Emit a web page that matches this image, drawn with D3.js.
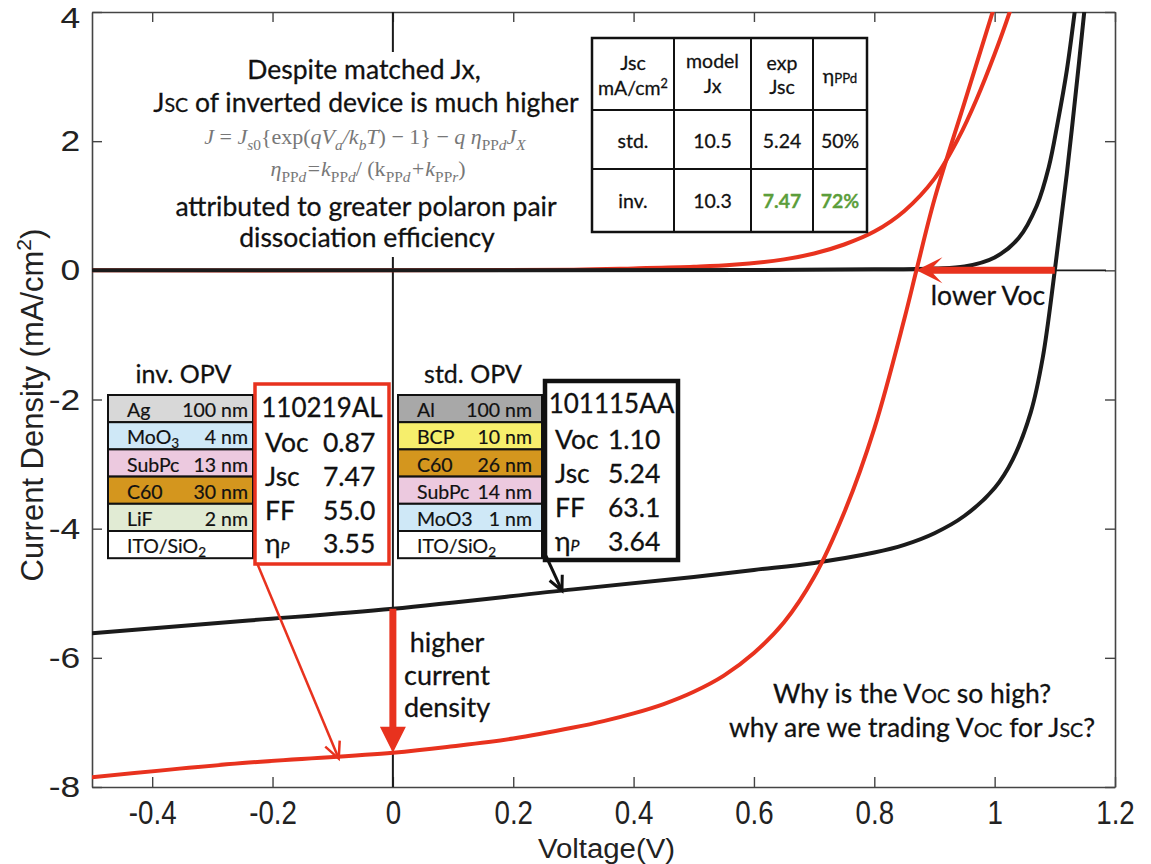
<!DOCTYPE html>
<html>
<head>
<meta charset="utf-8">
<script src="https://cdn.jsdelivr.net/npm/d3@7"></script>
<style>
  html, body { margin: 0; padding: 0; background: #fff; }
  svg { display: block; }
</style>
</head>
<body>
<svg id="chart" width="1151" height="864"></svg>
<script>
// ---- J–V data (V in volts, J in mA/cm²) ----
// standard device, illuminated
const stdLight = [[-0.5,-5.62],[-0.25,-5.43],[0,-5.24],[0.3,-4.94],[0.5,-4.75],[0.6,-4.64],
  [0.7,-4.53],[0.8,-4.37],[0.85,-4.25],[0.9,-4.07],[0.95,-3.8],[1.0,-3.37],[1.03,-2.93],
  [1.06,-2.2],[1.08,-1.35],[1.10,0],[1.12,1.5],[1.14,3.2],[1.15,4.1],[1.155,4.6]];
// standard device, dark
const stdDark = [[-0.5,0],[0.2,0],[0.6,0.005],[0.8,0.015],[0.9,0.03],[0.95,0.06],[1.0,0.2],
  [1.04,0.5],[1.07,1.0],[1.09,1.6],[1.105,2.3],[1.12,3.1],[1.133,4.0],[1.138,4.4]];
// inverted device, illuminated
const invLight = [[-0.5,-7.85],[-0.25,-7.63],[0,-7.47],[0.1,-7.37],[0.2,-7.25],[0.3,-7.08],
  [0.35,-6.98],[0.4,-6.86],[0.45,-6.715],[0.5,-6.525],[0.55,-6.275],[0.6,-5.925],[0.65,-5.45],
  [0.7,-4.75],[0.75,-3.75],[0.8,-2.45],[0.85,-0.75],[0.87,0],[0.9,1.1],[0.95,2.6],[1.0,4.1],[1.01,4.4]];
// inverted device, dark
const invDark = [[-0.5,0],[0,0.0],[0.3,0.01],[0.4,0.03],[0.5,0.055],[0.565,0.085],[0.65,0.17],
  [0.7,0.26],[0.75,0.4],[0.8,0.6],[0.85,0.92],[0.9,1.42],[0.94,2.05],[0.97,2.65],[1.0,3.35],
  [1.025,4.0],[1.035,4.3]];

// ---- axes ----
const xTicks = [-0.4,-0.2,0,0.2,0.4,0.6,0.8,1,1.2];
const xTickLabels = ["-0.4","-0.2","0","0.2","0.4","0.6","0.8","1","1.2"];
const yTicks = [-8,-6,-4,-2,0,2,4];
const yTickLabels = ["-8","-6","-4","-2","0","2","4"];

// ---- device stacks ----
const invLayers = ["Ag","MoO_3","SubPc","C60","LiF","ITO/SiO_2"];
const invThick  = ["100 nm","4 nm","13 nm","30 nm","2 nm",""];
const stdLayers = ["Al","BCP","C60","SubPc","MoO3","ITO/SiO_2"];
const stdThick  = ["100 nm","10 nm","26 nm","14 nm","1 nm",""];
const invLayerFill = ["#d8d8d8","#cfe8f7","#ecc9df","#d4961e","#e1ebd4","#ffffff"];
const stdLayerFill = ["#a8a8a8","#f6ee6c","#d4961e","#ecc9df","#cfe8f7","#ffffff"];

// ---- device figures of merit ----
const paramNames = ["Voc","Jsc","FF","ηP"];
const invId = "110219AL";
const invParams = ["0.87","7.47","55.0","3.55"];
const stdId = "101115AA";
const stdParams = ["1.10","5.24","63.1","3.64"];

// ---- model table ----
const tableRows = ["std.","inv."];
const tableJx   = ["10.5","10.3"];
const tableJsc  = ["5.24","7.47"];
const tableEta  = ["50%","72%"];

const invVoc = +invParams[0], invJsc = -invParams[1];
const stdVoc = +stdParams[0], stdJsc = -stdParams[1];

const W = 1151, H = 864;
const plot = { left: 92, right: 1115, top: 12, bottom: 787 };
const svg = d3.select("#chart");

const x = d3.scaleLinear().domain([-0.5, 1.2]).range([plot.left, plot.right]);
const y = d3.scaleLinear().domain([-8, 4]).range([plot.bottom, plot.top]);

const RED = "#e8321e", BLACK = "#1b1b1b";
const SANS = "'Liberation Sans', Arial, Helvetica, sans-serif";
const HUM = "Lato, 'Open Sans', 'Noto Sans', sans-serif";
const SERIF = "'Liberation Serif', 'DejaVu Serif', serif";

svg.append("rect").attr("width", W).attr("height", H).attr("fill", "#fff");

svg.append("defs").append("clipPath").attr("id", "plotClip")
  .append("rect").attr("x", plot.left).attr("y", plot.top)
  .attr("width", plot.right - plot.left).attr("height", plot.bottom - plot.top);

// ---- axes with inward ticks on all four sides ----
const gAxes = svg.append("g");
const axB = gAxes.append("g").attr("transform", `translate(0,${plot.bottom})`)
  .call(d3.axisBottom(x).tickValues(xTicks).tickSizeInner(-10).tickSizeOuter(0).tickPadding(14)
    .tickFormat((d, i) => xTickLabels[i]));
axB.selectAll("text").style("font-family", SANS).style("font-size", "33px")
  .attr("fill", "#222").attr("transform", "scale(0.84,1)");
const axL = gAxes.append("g").attr("transform", `translate(${plot.left},0)`)
  .call(d3.axisLeft(y).tickValues(yTicks).tickSizeInner(-10).tickSizeOuter(0).tickPadding(10)
    .tickFormat((d, i) => yTickLabels[i]));
axL.selectAll("text").style("font-family", SANS).style("font-size", "30px").attr("fill", "#222")
  .attr("transform", "scale(1.18,1)");
// keep the topmost label inside the canvas
axL.selectAll(".tick").filter(d => d === 4).select("text").attr("dy", "0.5em");
gAxes.append("g").attr("transform", `translate(0,${plot.top})`)
  .call(d3.axisTop(x).tickValues(xTicks).tickSizeInner(-10).tickSizeOuter(0).tickFormat(""));
gAxes.append("g").attr("transform", `translate(${plot.right},0)`)
  .call(d3.axisRight(y).tickValues(yTicks).tickSizeInner(-10).tickSizeOuter(0).tickFormat(""));
gAxes.selectAll(".domain").attr("stroke", "#444").attr("stroke-width", 1.6);
gAxes.selectAll(".tick line").attr("stroke", "#444").attr("stroke-width", 1.4);

// axis titles
const xtc = (plot.left + plot.right) / 2 + 3;
svg.append("text").attr("x", 0).attr("y", 0)
  .attr("text-anchor", "middle").style("font-family", SANS).style("font-size", "28px")
  .attr("fill", "#222").attr("transform", `translate(${xtc},857.5) scale(1.05,1)`)
  .text("Voltage(V)");
const yTitle = svg.append("text").attr("transform", "translate(43,405) rotate(-90)")
  .attr("text-anchor", "middle").style("font-family", SANS).style("font-size", "31px").attr("fill", "#222");
yTitle.append("tspan").text("Current Density (mA/cm");
yTitle.append("tspan").attr("dy", -12).style("font-size", "21px").text("2");
yTitle.append("tspan").attr("dy", 12).text(")");

// ---- reference lines J = 0 and V = 0 ----
svg.append("line").attr("x1", x(-0.5)).attr("x2", x(1.185)).attr("y1", y(0)).attr("y2", y(0))
  .attr("stroke", BLACK).attr("stroke-width", 1.6);
svg.append("line").attr("x1", x(0)).attr("x2", x(0)).attr("y1", y(4)).attr("y2", y(-8))
  .attr("stroke", BLACK).attr("stroke-width", 2);

// ---- curves ----
const line = d3.line().x(d => x(d[0])).y(d => y(d[1])).curve(d3.curveCatmullRom.alpha(0.5));
const gCurves = svg.append("g").attr("clip-path", "url(#plotClip)");
[[invDark, RED], [stdDark, BLACK], [stdLight, BLACK], [invLight, RED]].forEach(([data, c]) => {
  gCurves.append("path").datum(data).attr("d", line).attr("fill", "none")
    .attr("stroke", c).attr("stroke-width", 4).attr("stroke-linejoin", "round").attr("stroke-linecap", "round");
});

// ---- helpers ----
function rich(parent, px, py, parts, opt) {
  const fill = opt.fill || "#111";
  const fam = opt.family || HUM;
  const t = parent.append("text").attr("x", px).attr("y", py)
    .attr("text-anchor", opt.anchor || "middle")
    .style("font-family", fam).style("font-size", opt.size + "px")
    .attr("fill", fill);
  if (fam === HUM) t.attr("stroke", fill).attr("stroke-width", opt.sw != null ? opt.sw : 0.28);
  if (opt.style) t.style("font-style", opt.style);
  if (opt.weight) t.style("font-weight", opt.weight);
  let shift = 0;
  parts.forEach(p => {
    if (typeof p === "string") p = { t: p };
    const s = t.append("tspan").text(p.t);
    const target = p.sub ? opt.size * (p.subShift || 0.28) : (p.sup ? -opt.size * 0.38 : 0);
    if (target !== shift) { s.attr("dy", target - shift); shift = target; }
    if (p.scale) s.style("font-size", (opt.size * p.scale) + "px");
    if (p.italic) s.style("font-style", "italic");
    if (p.roman) s.style("font-style", "normal");
    if (p.fill) s.attr("fill", p.fill);
    if (p.weight) s.style("font-weight", p.weight);
  });
  return t;
}
// "MoO_3" -> MoO with subscript 3
function splitSub(label) {
  const i = label.indexOf("_");
  if (i < 0) return [label];
  return [label.slice(0, i), { t: label.slice(i + 1), sub: true, scale: 0.7, subShift: 0.2 }];
}
function blockArrow(g, x1, y1, x2, y2, shaft, headLen, headHalf, color, barb) {
  const dx = x2 - x1, dy = y2 - y1, L = Math.hypot(dx, dy);
  const ux = dx / L, uy = dy / L, px = -uy, py = ux;
  const b = L - headLen, n = barb ? headLen * 0.35 : 0;
  const pt = (d, o) => [x1 + ux * d + px * o, y1 + uy * d + py * o];
  const pts = [pt(0, -shaft / 2), pt(b + n, -shaft / 2), pt(b, -headHalf), pt(L, 0),
               pt(b, headHalf), pt(b + n, shaft / 2), pt(0, shaft / 2)];
  g.append("path").attr("d", d3.line()(pts) + "Z").attr("fill", color);
}
function thinArrow(g, x1, y1, x2, y2, color, width, head) {
  const a = Math.atan2(y2 - y1, x2 - x1), s = 0.45;
  g.append("line").attr("x1", x1).attr("y1", y1).attr("x2", x2).attr("y2", y2)
    .attr("stroke", color).attr("stroke-width", width);
  const p = d3.path();
  p.moveTo(x2 - head * Math.cos(a - s), y2 - head * Math.sin(a - s));
  p.lineTo(x2, y2);
  p.lineTo(x2 - head * Math.cos(a + s), y2 - head * Math.sin(a + s));
  g.append("path").attr("d", p.toString()).attr("fill", "none").attr("stroke", color)
    .attr("stroke-width", width).attr("stroke-linejoin", "miter");
}

const gA = svg.append("g");

// ---- model statement (upper left) ----
gA.append("rect").attr("x", 140).attr("y", 52).attr("width", 445).attr("height", 205).attr("fill", "#fff");
const cx = 364;
rich(gA, cx, 79, ["Despite matched Jx,"], { size: 26.5 });
rich(gA, cx + 2, 112, ["J", { t: "SC", scale: 0.74 }, " of inverted device is much higher"], { size: 26.5 });
const eqOpt = { size: 22, family: SERIF, style: "italic", fill: "#777" };
rich(gA, cx + 1, 144, [
  { t: "J" }, { t: " = ", roman: true }, { t: "J" }, { t: "s", sub: true, scale: 0.7 }, { t: "0", sub: true, scale: 0.7, roman: true },
  { t: "{exp(", roman: true }, { t: "qV" }, { t: "a", sub: true, scale: 0.7 }, { t: "/k" }, { t: "b", sub: true, scale: 0.7 },
  { t: "T" }, { t: ") − 1} − ", roman: true }, { t: "q η" }, { t: "PP", sub: true, scale: 0.7, roman: true },
  { t: "d", sub: true, scale: 0.7 }, { t: "J" }, { t: "X", sub: true, scale: 0.7 }
], eqOpt);
rich(gA, cx + 4, 176, [
  { t: "η" }, { t: "PP", sub: true, scale: 0.7, roman: true }, { t: "d", sub: true, scale: 0.7 },
  { t: "=k" }, { t: "PP", sub: true, scale: 0.7, roman: true }, { t: "d", sub: true, scale: 0.7 },
  { t: "/ (k", roman: true }, { t: "PP", sub: true, scale: 0.7, roman: true }, { t: "d", sub: true, scale: 0.7 },
  { t: "+k" }, { t: "PP", sub: true, scale: 0.7, roman: true }, { t: "r", sub: true, scale: 0.7 }, { t: ")", roman: true }
], eqOpt);
rich(gA, cx + 2, 216, ["attributed to greater polaron pair"], { size: 26.5 });
rich(gA, cx + 3, 247, ["dissociation efficiency"], { size: 26.5 });

// ---- model table ----
const tCols = [592, 674, 751, 813, 867];
const tRowsY = [38, 110, 169, 232];
const gT = gA.append("g");
gT.append("rect").attr("x", tCols[0]).attr("y", tRowsY[0]).attr("width", tCols[4] - tCols[0])
  .attr("height", tRowsY[3] - tRowsY[0]).attr("fill", "#fff").attr("stroke", "#111").attr("stroke-width", 2.5);
tCols.slice(1, 4).forEach(c => gT.append("line").attr("x1", c).attr("x2", c).attr("y1", tRowsY[0]).attr("y2", tRowsY[3])
  .attr("stroke", "#111").attr("stroke-width", 2));
tRowsY.slice(1, 3).forEach(r => gT.append("line").attr("x1", tCols[0]).attr("x2", tCols[4]).attr("y1", r).attr("y2", r)
  .attr("stroke", "#111").attr("stroke-width", 2));
const colC = i => (tCols[i] + tCols[i + 1]) / 2;
const tOpt = { size: 19.5 };
rich(gT, colC(0), 70, ["Jsc"], tOpt);
rich(gT, colC(0), 95, ["mA/cm", { t: "2", sup: true, scale: 0.65 }], tOpt);
rich(gT, colC(1), 68, ["model"], tOpt);
rich(gT, colC(1), 93, ["Jx"], tOpt);
rich(gT, colC(2), 70, ["exp"], tOpt);
rich(gT, colC(2), 94, ["Jsc"], tOpt);
rich(gT, colC(3), 83, ["η", { t: "PPd", scale: 0.68 }], tOpt);
const greenFill = "#5c9e3b";
tableRows.forEach((r, i) => {
  const by = i === 0 ? 148 : 208;
  const hi = i === 1;
  rich(gT, colC(0), by, [r], tOpt);
  rich(gT, colC(1), by, [tableJx[i]], tOpt);
  rich(gT, colC(2), by, [tableJsc[i]], { size: 19.5, fill: hi ? greenFill : "#111", weight: hi ? 700 : 400 });
  rich(gT, colC(3), by, [tableEta[i]], { size: 19.5, fill: hi ? greenFill : "#111", weight: hi ? 700 : 400 });
});

// ---- device stacks ----
function drawStack(x0, top, w, rowH, layers, thick, fills, title, thickX) {
  const g = gA.append("g");
  rich(g, x0 + w / 2 + 3, top - 12, [title], { size: 25 });
  layers.forEach((name, i) => {
    const yy = top + i * rowH;
    g.append("rect").attr("x", x0).attr("y", yy).attr("width", w).attr("height", rowH)
      .attr("fill", fills[i]).attr("stroke", "#111").attr("stroke-width", 2);
    rich(g, x0 + 19, yy + rowH - 5, splitSub(name), { size: 19.5, anchor: "start", sw: 0.2 });
    if (thick[i]) rich(g, thickX, yy + rowH - 5, [thick[i]], { size: 19.5, anchor: "end", sw: 0.2 });
  });
}
drawStack(108, 395, 145, 27.2, invLayers, invThick, invLayerFill, "inv. OPV", 248);
drawStack(398, 395, 144, 27.2, stdLayers, stdThick, stdLayerFill, "std. OPV", 532);

// ---- parameter boxes ----
function paramBox(bx, by, bw, bh, color, sw, id, vals, rowsY, valX) {
  const g = gA.append("g");
  g.append("rect").attr("x", bx).attr("y", by).attr("width", bw).attr("height", bh)
    .attr("fill", "#fff").attr("stroke", color).attr("stroke-width", sw);
  rich(g, bx + bw / 2, rowsY[0], [id], { size: 26 });
  paramNames.forEach((n, i) => {
    const parts = n === "ηP" ? ["η", { t: "P", italic: true, scale: 0.6 }] : [n];
    rich(g, bx + 10, rowsY[i + 1], parts, { size: 26.5, anchor: "start" });
    rich(g, valX, rowsY[i + 1], [vals[i]], { size: 26.5, anchor: "start" });
  });
}
paramBox(255, 384, 134, 180, RED, 3.5, invId, invParams, [417, 452, 486, 520, 553], 323);
paramBox(545, 381, 133, 179, "#111", 4.5, stdId, stdParams, [413, 449, 483, 517, 551], 608);

// ---- arrows ----
// larger short-circuit current of the inverted device
blockArrow(gA, x(0), y(stdJsc), x(0), y(invJsc), 7, 26, 13, RED, false);
rich(gA, 447, 652, ["higher"], { size: 27 });
rich(gA, 447, 685, ["current"], { size: 27 });
rich(gA, 447, 717, ["density"], { size: 27 });
// reduced open-circuit voltage
blockArrow(gA, x(stdVoc), y(0), x(invVoc), y(0), 7, 26, 13, RED, true);
rich(gA, 988, 305, ["lower Voc"], { size: 26.5 });
// callouts from the parameter boxes to their curves
thinArrow(gA, 257, 563, x(-0.09), y(-7.56), RED, 2.5, 18);
thinArrow(gA, 546, 556, x(0.281), y(-4.96), "#111", 3, 16);

// ---- questions ----
rich(gA, 912, 703, ["Why is the V", { t: "OC", scale: 0.74 }, " so high?"], { size: 26.5 });
rich(gA, 912, 737, ["why are we trading V", { t: "OC", scale: 0.74 }, " for J", { t: "SC", scale: 0.74 }, "?"], { size: 26.5 });
</script>
</body>
</html>
